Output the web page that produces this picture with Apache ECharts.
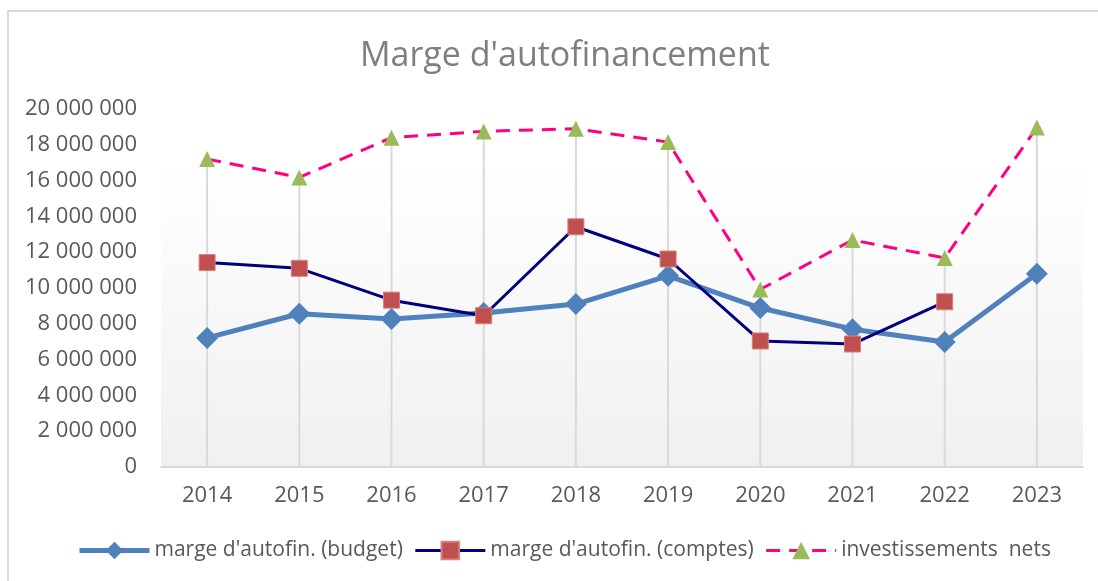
<!DOCTYPE html>
<html>
<head>
<meta charset="utf-8">
<script src="https://cdn.jsdelivr.net/npm/echarts@6/dist/echarts.min.js"></script>
<style>
  html, body { margin: 0; padding: 0; background: #fff; }
  #main { width: 1098px; height: 581px; }
</style>
</head>
<body>
<div id="main"></div>
<script>
  // données
  var years = ['2014', '2015', '2016', '2017', '2018', '2019', '2020', '2021', '2022', '2023'];
  var budget = [7210000, 8560000, 8270000, 8600000, 9100000, 10680000, 8880000, 7700000, 6980000, 10800000];
  var comptes = [11420000, 11100000, 9320000, 8450000, 13420000, 11620000, 7040000, 6870000, 9230000, null];
  var investissements = [17200000, 16180000, 18400000, 18750000, 18900000, 18150000, 9920000, 12680000, 11680000, 18960000];

  var font = 'Open Sans';
  var myChart = echarts.init(document.getElementById('main'));

  var option = {
    backgroundColor: '#fff',
    textStyle: { fontFamily: font },
    title: {
      text: "Marge d'autofinancement",
      left: 355,
      top: 34,
      textStyle: { fontFamily: font, fontSize: 34, fontWeight: 'normal', color: '#7f7f7f' }
    },
    graphic: [{
      type: 'rect',
      shape: { x: 8, y: 11, width: 1200, height: 700 },
      style: { fill: 'none', stroke: '#d9d9d9', lineWidth: 2 },
      silent: true
    }],
    legend: {
      data: [
        { name: "marge d'autofin. (budget)", lineStyle: { width: 5 } },
        { name: "marge d'autofin. (comptes)", lineStyle: { width: 3 } },
        { name: 'investissements  nets', lineStyle: { width: 3 } }
      ],
      left: 72,
      top: 535,
      itemWidth: 70,
      itemHeight: 22,
      itemGap: 11,
      textStyle: { fontFamily: font, fontSize: 21, color: '#595959' }
    },
    grid: {
      left: 161,
      right: 15,
      top: 109,
      bottom: 114,
      show: true,
      borderWidth: 0,
      backgroundColor: new echarts.graphic.LinearGradient(0, 0, 0, 1, [
        { offset: 0, color: '#ffffff' },
        { offset: 0.15, color: '#ffffff' },
        { offset: 1, color: '#f0f0f0' }
      ])
    },
    xAxis: {
      type: 'category',
      data: years,
      boundaryGap: true,
      axisLine: { lineStyle: { color: '#d9d9d9', width: 2 } },
      axisTick: { show: false },
      axisLabel: { fontFamily: font, fontSize: 22, color: '#595959', margin: 18 }
    },
    yAxis: {
      type: 'value',
      min: 0,
      max: 20000000,
      interval: 2000000,
      splitLine: { show: false },
      axisLine: { show: false },
      axisTick: { show: false },
      axisLabel: {
        fontFamily: font, fontSize: 22, color: '#595959', margin: 24,
        formatter: function (v) {
          return String(v).replace(/\B(?=(\d{3})+(?!\d))/g, ' ');
        }
      }
    },
    series: [
      {
        // lignes de projection
        name: 'drop',
        type: 'bar',
        data: investissements,
        barWidth: 2,
        itemStyle: { color: '#d9d9d9' },
        silent: true,
        z: 1
      },
      {
        name: "marge d'autofin. (budget)",
        type: 'line',
        data: budget,
        symbol: 'diamond',
        symbolSize: 22,
        lineStyle: { color: '#4f81bd', width: 5 },
        itemStyle: { color: '#4f81bd' },
        z: 3
      },
      {
        name: "marge d'autofin. (comptes)",
        type: 'line',
        data: comptes,
        symbol: 'rect',
        symbolSize: 16,
        lineStyle: { color: '#000080', width: 3 },
        itemStyle: { color: '#c0504d', borderColor: '#d6807d', borderWidth: 1 },
        z: 4
      },
      {
        name: 'investissements  nets',
        type: 'line',
        data: investissements,
        symbol: 'triangle',
        symbolSize: 16,
        lineStyle: { color: '#ff0080', width: 3, type: [14, 9] },
        itemStyle: { color: '#9bbb59' },
        z: 5
      }
    ]
  };

  myChart.setOption(option);
</script>
</body>
</html>
